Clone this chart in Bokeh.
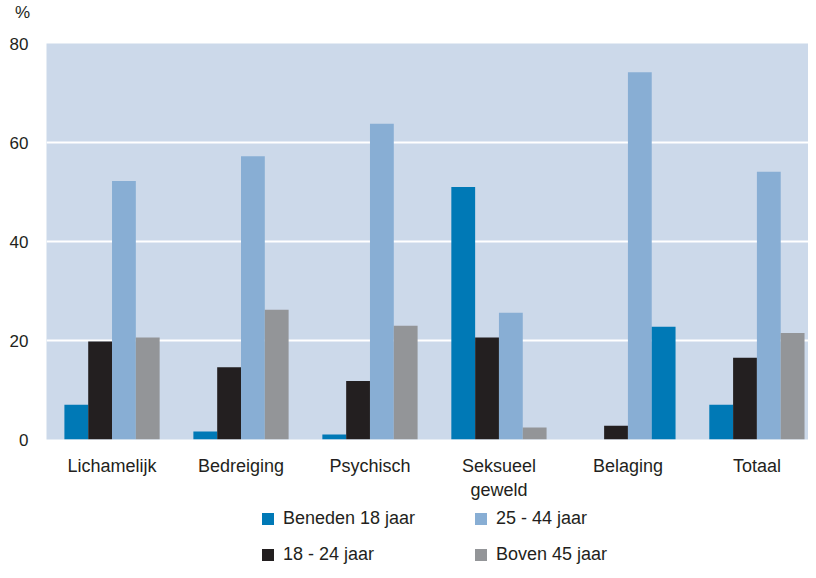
from bokeh.plotting import figure
from bokeh.layouts import column
from bokeh.models import (ColumnDataSource, Range1d, FixedTicker, Legend, LegendItem, Div)
from bokeh.embed import file_html
from bokeh.resources import INLINE

categories = ["Lichamelijk", "Bedreiging", "Psychisch", "Seksueel\ngeweld", "Belaging", "Totaal"]
series_names = ["Beneden 18 jaar", "18 - 24 jaar", "25 - 44 jaar", "Boven 45 jaar"]
beneden_18 = [7.0, 1.6, 1.0, 51.0, 0.0, 7.0]
j18_24 = [19.8, 14.6, 11.8, 20.6, 2.8, 16.5]
j25_44 = [52.2, 57.2, 63.8, 25.6, 74.2, 54.1]
boven_45 = [20.6, 26.2, 23.0, 2.4, 22.8, 21.5]
y_ticks = [0, 20, 40, 60, 80]

BLUE = "#0079b6"
BLACK = "#231f20"
LIGHT = "#88aed4"
GRAY = "#939598"
BG = "#ccd9ea"
TXT = "#231f20"
FONT = "Liberation Sans"

series = [beneden_18, j18_24, j25_44, boven_45]
colors = [BLUE, BLACK, LIGHT, GRAY]
# in the reference the Belaging bar of the last series is drawn in the dark blue colour
last_colors = [BLUE if c == "Belaging" else GRAY for c in categories]

unit = Div(text="%", width=40, height=20, margin=(3, 0, 0, 15),
           styles={"font-family": FONT, "font-size": "17px", "color": TXT,
                   "line-height": "20px"})

p = figure(frame_width=762, frame_height=396,
           output_backend="svg", toolbar_location=None,
           x_range=Range1d(-0.508, 5.4), y_range=Range1d(0, 80),
           min_border_left=46, min_border_right=0, min_border_top=20, min_border_bottom=0)
p.background_fill_color = BG
p.border_fill_color = "white"
p.outline_line_color = None

bw = 0.1846
offsets = [-1.5 * bw, -0.5 * bw, 0.5 * bw, 1.5 * bw]
for i, (vals, col) in enumerate(zip(series, colors)):
    fills = last_colors if i == 3 else [col] * len(vals)
    src = ColumnDataSource(dict(x=[k + offsets[i] for k in range(len(categories))],
                                top=vals, color=fills))
    p.vbar(x="x", top="top", width=bw, bottom=0, source=src,
           fill_color="color", line_color=None)

p.xgrid.grid_line_color = None
p.ygrid.grid_line_color = "white"
p.ygrid.grid_line_width = 2
p.ygrid.ticker = FixedTicker(ticks=y_ticks)

p.yaxis.ticker = FixedTicker(ticks=y_ticks)
p.yaxis.axis_line_color = None
p.yaxis.major_tick_line_color = None
p.yaxis.minor_tick_line_color = None
p.yaxis.major_label_standoff = 12
p.yaxis.major_label_text_font = FONT
p.yaxis.major_label_text_font_size = "17px"
p.yaxis.major_label_text_color = TXT

p.xaxis.ticker = FixedTicker(ticks=list(range(len(categories))))
p.xaxis.major_label_overrides = {i: c for i, c in enumerate(categories)}
p.xaxis.axis_line_color = None
p.xaxis.major_tick_line_color = None
p.xaxis.minor_tick_line_color = None
p.xaxis.major_label_standoff = 10
p.xaxis.major_label_text_font = FONT
p.xaxis.major_label_text_font_size = "18px"
p.xaxis.major_label_text_color = TXT

# legend figure
lg = figure(width=808, height=63, output_backend="svg", toolbar_location=None,
            x_range=Range1d(0, 1), y_range=Range1d(0, 1),
            min_border=0, x_axis_type=None, y_axis_type=None)
lg.outline_line_color = None
lg.xgrid.grid_line_color = None
lg.ygrid.grid_line_color = None
lg.background_fill_color = "white"
items = []
for n, col in zip(series_names, colors):
    r = lg.vbar(x=[0], top=[0], bottom=0, width=0, fill_color=col, line_color=None)
    items.append(LegendItem(label=n, renderers=[r]))
legend = Legend(items=items, ncols=2, orientation="vertical", location=(214, 0),
                glyph_width=15, glyph_height=15, label_standoff=8,
                label_width=175, label_height=20, spacing=15, padding=0, margin=0,
                border_line_color=None, background_fill_alpha=0,
                label_text_font=FONT, label_text_font_size="18px", label_text_color=TXT)
lg.add_layout(legend, "center")

layout = column(unit, p, lg, spacing=0)
open("out.html", "w").write(file_html(layout, INLINE))
